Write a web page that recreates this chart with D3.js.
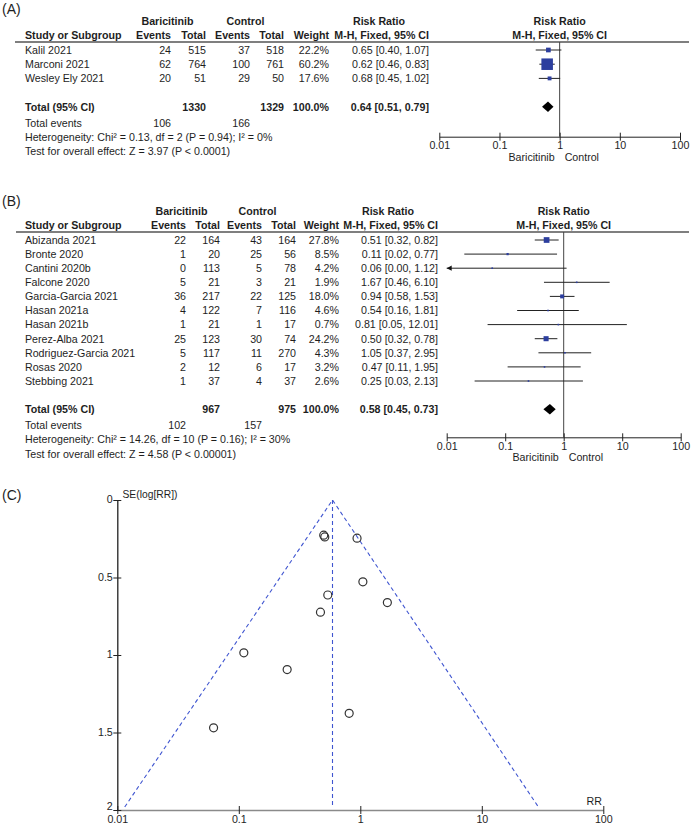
<!DOCTYPE html>
<html><head><meta charset="utf-8">
<script src="https://cdn.jsdelivr.net/npm/d3@7"></script>
<style>
body{margin:0;background:#fff;}
svg text{font-family:"Liberation Sans",Arial,sans-serif;fill:#1e1e1e;}
</style></head><body>
<svg id="c" width="691" height="824"></svg>
<script>
// ---------- Panel A data ----------
const studiesA = ["Kalil 2021","Marconi 2021","Wesley Ely 2021"];
const bariEventsA = [24,62,20];
const bariTotalA = [515,764,51];
const ctrlEventsA = [37,100,29];
const ctrlTotalA = [518,761,50];
const weightA = [22.2,60.2,17.6];
const rrA = [0.65,0.62,0.68];
const lowA = [0.40,0.46,0.45];
const highA = [1.07,0.83,1.02];
const totalsA = [1330,1329,100.0];          // bari total, ctrl total, weight
const pooledA = [0.64,0.51,0.79];           // rr, low, high
const eventsA = [106,166];                  // total events bari, ctrl
const hetA = "Heterogeneity: Chi² = 0.13, df = 2 (P = 0.94); I² = 0%";
const testA = "Test for overall effect: Z = 3.97 (P < 0.0001)";

// ---------- Panel B data ----------
const studiesB = ["Abizanda 2021","Bronte 2020","Cantini 2020b","Falcone 2020","Garcia-Garcia 2021","Hasan 2021a","Hasan 2021b","Perez-Alba 2021","Rodriguez-Garcia 2021","Rosas 2020","Stebbing 2021"];
const bariEventsB = [22,1,0,5,36,4,1,25,5,2,1];
const bariTotalB = [164,20,113,21,217,122,21,123,117,12,37];
const ctrlEventsB = [43,25,5,3,22,7,1,30,11,6,4];
const ctrlTotalB = [164,56,78,21,125,116,17,74,270,17,37];
const weightB = [27.8,8.5,4.2,1.9,18.0,4.6,0.7,24.2,4.3,3.2,2.6];
const rrB = [0.51,0.11,0.06,1.67,0.94,0.54,0.81,0.50,1.05,0.47,0.25];
const lowB = [0.32,0.02,0.00,0.46,0.58,0.16,0.05,0.32,0.37,0.11,0.03];
const highB = [0.82,0.77,1.12,6.10,1.53,1.81,12.01,0.78,2.95,1.95,2.13];
const totalsB = [967,975,100.0];
const pooledB = [0.58,0.45,0.73];
const eventsB = [102,157];
const hetB = "Heterogeneity: Chi² = 14.26, df = 10 (P = 0.16); I² = 30%";
const testB = "Test for overall effect: Z = 4.58 (P < 0.00001)";

// ---------- Panel C (funnel) data ----------
const funnelRR = [0.51,0.11,0.062,1.67,0.94,0.54,0.81,0.50,1.05,0.47,0.25];
const funnelSE = [0.238,0.986,1.470,0.662,0.246,0.613,1.376,0.227,0.528,0.724,1.094];
const funnelPooled = 0.58;
const rrTicks = [0.01,0.1,1,10,100];
const seTicks = [0,0.5,1,1.5,2];

const svg = d3.select("#c");
const FS = 10.67;
const BL = 3.8; // baseline offset from visual centre
const f2 = d3.format(".2f"), f1 = d3.format(".1f");

function txt(g, x, y, s, anchor, bold, size) {
  return g.append("text").attr("x", x).attr("y", y + (size ? size*0.36 : BL))
    .attr("text-anchor", anchor || "start")
    .attr("font-size", size || FS)
    .attr("font-weight", bold ? "bold" : "normal")
    .text(s);
}

function forest(cfg) {
  const g = svg.append("g");
  const x = d3.scaleLog().domain([0.01,100]).range([cfg.x0, cfg.x1]);
  const n = cfg.studies.length;
  const rowY = i => cfg.top + i*cfg.step;
  const size = d3.scaleLinear().domain([0,100]).range([0.7,18.7]);
  const c = cfg.cols; // right edges: bE, bT, cE, cT, W, RR
  txt(g, 2, cfg.labelY, cfg.label, "start", false, 14);
  const gy = cfg.top - 29, sy = cfg.top - 15, ly = cfg.top - 8;
  txt(g, c[1]-38.5, gy, "Baricitinib", "middle", true);
  txt(g, c[3]-38.5, gy, "Control", "middle", true);
  txt(g, c[5]-50, gy, "Risk Ratio", "middle", true);
  txt(g, x(1), gy, "Risk Ratio", "middle", true);
  txt(g, cfg.nameX, sy, "Study or Subgroup", "start", true);
  ["Events","Total","Events","Total","Weight","M-H, Fixed, 95% CI"].forEach((h,i)=>txt(g, c[i], sy, h, "end", true));
  txt(g, x(1), sy, "M-H, Fixed, 95% CI", "middle", true);
  g.append("line").attr("x1", cfg.lineX0).attr("x2", 689).attr("y1", ly).attr("y2", ly)
    .attr("stroke", "#555").attr("stroke-width", 1.3);
  cfg.studies.forEach((s,i)=>{
    const y = rowY(i);
    txt(g, cfg.nameX, y, s);
    txt(g, c[0], y, cfg.bE[i], "end");
    txt(g, c[1], y, cfg.bT[i], "end");
    txt(g, c[2], y, cfg.cE[i], "end");
    txt(g, c[3], y, cfg.cT[i], "end");
    txt(g, c[4], y, f1(cfg.w[i]) + "%", "end");
    txt(g, c[5], y, `${f2(cfg.rr[i])} [${f2(cfg.lo[i])}, ${f2(cfg.hi[i])}]`, "end");
  });
  const ty = rowY(n+1);
  txt(g, cfg.nameX, ty, "Total (95% CI)", "start", true);
  txt(g, c[1], ty, cfg.totals[0], "end", true);
  txt(g, c[3], ty, cfg.totals[1], "end", true);
  txt(g, c[4], ty, f1(cfg.totals[2]) + "%", "end", true);
  txt(g, c[5], ty, `${f2(cfg.pooled[0])} [${f2(cfg.pooled[1])}, ${f2(cfg.pooled[2])}]`, "end", true);
  const ey = rowY(n+2) + 2;
  txt(g, cfg.nameX, ey, "Total events");
  txt(g, c[0], ey, cfg.events[0], "end");
  txt(g, c[2], ey, cfg.events[1], "end");
  txt(g, cfg.nameX, ey + 14.2, cfg.het);
  txt(g, cfg.nameX, ey + 28.4, cfg.test);

  g.append("line").attr("x1", x(1)).attr("x2", x(1)).attr("y1", ly).attr("y2", cfg.axisY)
    .attr("stroke", "#444").attr("stroke-width", 1);
  cfg.studies.forEach((s,i)=>{
    const y = rowY(i);
    const lo = cfg.lo[i] < 0.01 ? 0.01 : cfg.lo[i];
    g.append("line").attr("x1", x(lo)).attr("x2", x(cfg.hi[i])).attr("y1", y).attr("y2", y)
      .attr("stroke", "#222").attr("stroke-width", 1);
    if (cfg.lo[i] < 0.01) {
      const ax = x(0.01);
      g.append("path").attr("d", `M${ax},${y} L${ax+5},${y-2.6} L${ax+5},${y+2.6} Z`).attr("fill", "#111");
    }
    const sz = Math.max(1.6, size(cfg.w[i]));
    g.append("rect").attr("x", x(cfg.rr[i]) - sz/2).attr("y", y - sz/2)
      .attr("width", sz).attr("height", sz).attr("fill", "#2c3e9e");
  });
  const p = cfg.pooled;
  g.append("path").attr("d", `M${x(p[1])},${ty} L${x(p[0])},${ty-5.3} L${x(p[2])},${ty} L${x(p[0])},${ty+5.3} Z`)
    .attr("fill", "#000");
  const ax = g.append("g").attr("transform", `translate(0,${cfg.axisY})`)
    .call(d3.axisBottom(x).tickValues(rrTicks).tickFormat(d=>String(d)).tickSizeOuter(0));
  ax.select(".domain").attr("stroke", "#222");
  ax.selectAll(".tick line").attr("y1", -4).attr("y2", 4).attr("stroke", "#222");
  ax.selectAll(".tick text").attr("y", 9 + BL).attr("dy", null)
    .attr("font-size", FS).attr("font-family", null);
  txt(g, x(1) - 5, cfg.axisY + 20, "Baricitinib", "end");
  txt(g, x(1) + 5, cfg.axisY + 20, "Control", "start");
}

forest({label:"(A)", labelY:8.5, top:50, step:14.2, nameX:25, lineX0:15,
  cols:[171,206,250,284,329,429], x0:439.3, x1:680, axisY:136.7,
  studies:studiesA, bE:bariEventsA, bT:bariTotalA, cE:ctrlEventsA, cT:ctrlTotalA,
  w:weightA, rr:rrA, lo:lowA, hi:highA, totals:totalsA, pooled:pooledA, events:eventsA,
  het:hetA, test:testA});

forest({label:"(B)", labelY:200.5, top:240, step:14.1, nameX:25, lineX0:16,
  cols:[186,220,262,296,339,438], x0:446.7, x1:680.7, axisY:437.3,
  studies:studiesB, bE:bariEventsB, bT:bariTotalB, cE:ctrlEventsB, cT:ctrlTotalB,
  w:weightB, rr:rrB, lo:lowB, hi:highB, totals:totalsB, pooled:pooledB, events:eventsB,
  het:hetB, test:testB});

// ---------- Panel C: funnel plot ----------
(function(){
  const g = svg.append("g");
  txt(g, 2, 494.5, "(C)", "start", false, 14);
  const x = d3.scaleLog().domain([0.01,100]).range([117.3, 603.3]);
  const y = d3.scaleLinear().domain([0,2]).range([500, 810]);
  const blue = "#3f55d0";
  const seMax = 2;
  const lo = funnelPooled/Math.exp(1.96*seMax), hi = funnelPooled*Math.exp(1.96*seMax);
  const dash = "4,3";
  const xp = Math.round(x(funnelPooled)) + 0.5;
  g.append("path").attr("d", `M${x(lo)},${y(seMax)-3} L${xp},${y(0)} L${x(hi)},${y(seMax)-3}`)
    .attr("fill","none").attr("stroke", blue).attr("stroke-width", 1.1).attr("stroke-dasharray", dash);
  g.append("path").attr("d", `M${xp},${y(0)} L${xp},${y(seMax)-4}`)
    .attr("fill","none").attr("stroke", blue).attr("stroke-width", 1.1).attr("stroke-dasharray", dash);

  const xa = g.append("g").attr("transform", `translate(0,${y(2)})`)
    .call(d3.axisBottom(x).tickValues(rrTicks).tickFormat(d=>String(d)).tickSizeOuter(0));
  xa.select(".domain").attr("stroke", "#8a8a8a").attr("stroke-width", 1.7);
  xa.selectAll(".tick line").attr("y1", -4).attr("y2", 4).attr("stroke", "#222");
  xa.selectAll(".tick text").attr("y", 9 + BL).attr("dy", null).attr("font-size", FS).attr("font-family", null);

  const ya = g.append("g").attr("transform", `translate(117.3,0)`)
    .call(d3.axisLeft(y).tickValues(seTicks).tickFormat(d=>String(d)).tickSizeOuter(0));
  ya.select(".domain").attr("stroke", "#222").attr("stroke-width", 1.3);
  ya.selectAll(".tick line").attr("x1", -4).attr("x2", 4).attr("stroke", "#222");
  ya.selectAll(".tick text").attr("x", -4.5).attr("dy", null).attr("y", (d)=> d===2 ? BL - 4 : BL - 1)
    .attr("font-size", FS).attr("font-family", null);
  txt(g, 122.5, 494, "SE(log[RR])", "start", false, 10.3);
  txt(g, 602, 801.5, "RR", "end");

  g.selectAll("circle.pt").data(funnelRR).join("circle").attr("class","pt")
    .attr("cx", (d,i)=>x(d)).attr("cy", (d,i)=>y(funnelSE[i])).attr("r", 4)
    .attr("fill", "none").attr("stroke", "#333").attr("stroke-width", 1.2);
})();
</script>
</body></html>
